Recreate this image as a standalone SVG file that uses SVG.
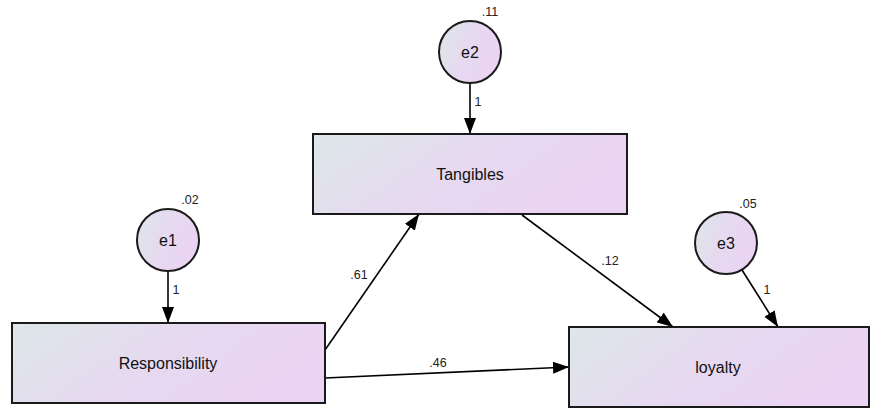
<svg xmlns="http://www.w3.org/2000/svg" width="872" height="409" viewBox="0 0 872 409">
  <defs>
    <linearGradient id="fillGrad" x1="0" y1="0" x2="1" y2="0.35">
      <stop offset="0" stop-color="#dde7e9"/>
      <stop offset="0.55" stop-color="#e6d9f0"/>
      <stop offset="1" stop-color="#ebd4f3"/>
    </linearGradient>
    <marker id="arrow" markerUnits="userSpaceOnUse" markerWidth="18" markerHeight="12" refX="16" refY="6" orient="auto">
      <path d="M0,0 L16,6 L0,12 Z" fill="#000"/>
    </marker>
  </defs>
  <style>
    .box { fill: url(#fillGrad); stroke: #1a1a1a; stroke-width: 2; }
    .node-label { font-family: "Liberation Sans", Arial, sans-serif; font-size: 16px; fill: #111; text-anchor: middle; dominant-baseline: central; }
    .val { font-family: "Liberation Sans", Arial, sans-serif; font-size: 12.5px; fill: #222; text-anchor: middle; }
    .edge { stroke: #000; stroke-width: 1.6; fill: none; marker-end: url(#arrow); }
  </style>
  <rect width="872" height="409" fill="#fff"/>

  <g id="connectors">
    <line class="edge" x1="470" y1="83" x2="470" y2="134"/>
    <line class="edge" x1="168" y1="271" x2="168" y2="323"/>
    <line class="edge" x1="742" y1="270" x2="778" y2="327"/>
    <line class="edge" x1="522" y1="215" x2="673" y2="327"/>
    <line class="edge" x1="325" y1="350" x2="419" y2="214"/>
    <line class="edge" x1="325" y1="378" x2="569" y2="367"/>
    <text class="val" x="478" y="106">1</text>
    <text class="val" x="176" y="294">1</text>
    <text class="val" x="767" y="294">1</text>
    <text class="val" x="610" y="265">.12</text>
    <text class="val" x="359" y="279">.61</text>
    <text class="val" x="438" y="367">.46</text>
  </g>

  <g id="e2">
    <circle class="box" cx="470" cy="52" r="31"/>
    <text class="node-label" x="470" y="52">e2</text>
    <text class="val" x="490" y="16">.11</text>
  </g>

  <g id="e1">
    <circle class="box" cx="168" cy="240" r="31"/>
    <text class="node-label" x="168" y="240">e1</text>
    <text class="val" x="190" y="204">.02</text>
  </g>

  <g id="e3">
    <circle class="box" cx="726" cy="243" r="31"/>
    <text class="node-label" x="726" y="243">e3</text>
    <text class="val" x="748" y="208">.05</text>
  </g>

  <g id="tangibles">
    <rect class="box" x="313" y="134" width="314" height="80"/>
    <text class="node-label" x="470" y="174">Tangibles</text>
  </g>

  <g id="responsibility">
    <rect class="box" x="12" y="323" width="313" height="80"/>
    <text class="node-label" x="168" y="363">Responsibility</text>
  </g>

  <g id="loyalty">
    <rect class="box" x="569" y="327" width="300" height="80"/>
    <text class="node-label" x="718" y="367">loyalty</text>
  </g>
</svg>
